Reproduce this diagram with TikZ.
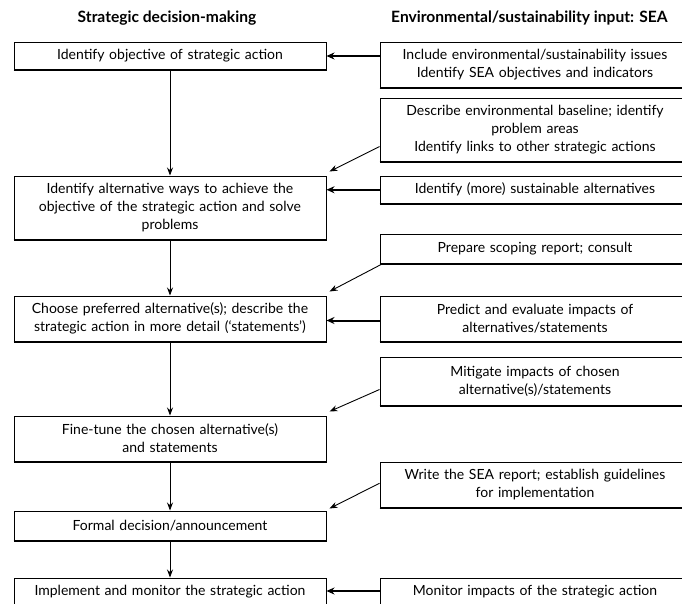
\documentclass[tikz,border=0pt]{standalone}
\usepackage{fontspec}
\setmainfont{Lato}
\usetikzlibrary{arrows.meta,calc}
\begin{document}
\begin{tikzpicture}[x=1pt,y=-1pt,
  box/.style={draw, line width=1pt, inner sep=0pt, align=center, font=\fontsize{14}{18}\selectfont},
  lbox/.style={box, minimum width=312pt, text width=308pt},
  rbox/.style={box, minimum width=310pt, text width=306pt},
  hdr/.style={font=\bfseries\fontsize{15.6}{18}\selectfont, inner sep=0pt},
  thinarrow/.style={draw, line width=0.9pt, -{Stealth[length=8pt,width=6pt]}},
  thickarrow/.style={draw, line width=2pt, -{Stealth[length=8pt,width=7pt]}}
]
\useasboundingbox (0,0) rectangle (682,603);
\clip (0,0) rectangle (682,603);

% headers
\node[hdr] (h1) at (167,18) {Strategic decision-making};
\node[hdr, anchor=west] (h2) at (391,18) {Environmental/sustainability input: SEA};

% left column
\node[lbox, minimum height=27pt] (b1) at (170,56) {Identify objective of strategic action};
\node[lbox, minimum height=63pt] (b2) at (170,207.5) {Identify alternative ways to achieve the\\objective of the strategic action and solve\\problems};
\node[lbox, minimum height=45pt] (b3) at (170,318.5) {Choose preferred alternative(s); describe the\\strategic action in more detail (`statements')};
\node[lbox, minimum height=45pt] (b4) at (170,438.5) {Fine-tune the chosen alternative(s)\\and statements};
\node[lbox, minimum height=29pt] (b5) at (170,525.5) {Formal decision/announcement};
\node[lbox, minimum height=27pt] (b6) at (170,591.5) {Implement and monitor the strategic action};

% right column
\node[rbox, minimum height=45pt] (rA) at (535,65) {Include environmental/sustainability issues\\Identify SEA objectives and indicators};
\node[rbox, minimum height=62.5pt] (rB) at (535,129.75) {Describe environmental baseline; identify\\problem areas\\Identify links to other strategic actions};
\node[rbox, minimum height=26.5pt] (rC) at (535,189.75) {Identify (more) sustainable alternatives};
\node[rbox, minimum height=28.5pt] (rD) at (535,249) {Prepare scoping report; consult};
\node[rbox, minimum height=45pt] (rE) at (535,318.5) {Predict and evaluate impacts of\\alternatives/statements};
\node[rbox, minimum height=48pt] (rF) at (535,381) {Mitigate impacts of chosen\\alternative(s)/statements};
\node[rbox, minimum height=45.5pt] (rG) at (535,485) {Write the SEA report; establish guidelines\\for implementation};
\node[rbox, minimum height=27pt] (rH) at (535,591.5) {Monitor impacts of the strategic action};

% heavier bottom edges
\foreach \n in {b1,b2,b3,b4,b5,b6,rA,rB,rC,rD,rE,rF,rG,rH}
  \draw[line width=1.6pt] ([yshift=-0.3pt]\n.south west) -- ([yshift=-0.3pt]\n.south east);

% vertical arrows
\draw[thinarrow] (b1) -- (b2);
\draw[thinarrow] (b2) -- (b3);
\draw[thinarrow] (b3) -- (b4);
\draw[thinarrow] (b4) -- (b5);
\draw[thinarrow] (b5) -- (b6);

% horizontal arrows
\draw[thickarrow] (rA.west |- b1.east) -- (b1.east);
\draw[thickarrow] (rC.west) -- (rC.west -| b2.east);
\draw[thickarrow] ([yshift=-2pt]rE.west) -- ([yshift=-2pt]b3.east);
\draw[thickarrow] ([yshift=0.5pt]rH.west) -- ([yshift=0.5pt]b6.east);

% diagonal arrows
\coordinate (sB) at ($(rB.south west)+(0,-15)$);
\coordinate (eB) at ($(b2.north east)+(3,-4)$);
\coordinate (sD) at ($(rD.south west)+(3,0)$);
\coordinate (eD) at ($(b3.north east)+(3,-4)$);
\coordinate (sF) at ($(rF.south west)+(0,-16)$);
\coordinate (eF) at ($(b4.north east)+(3,-4)$);
\coordinate (sG) at ($(rG.south west)+(0,-25)$);
\coordinate (eG) at ($(b5.north east)+(3,-2)$);
\draw[thinarrow] (sB) -- (eB);
\draw[thinarrow] (sD) -- (eD);
\draw[thinarrow] (sF) -- (eF);
\draw[thinarrow] (sG) -- (eG);
\end{tikzpicture}
\end{document}
